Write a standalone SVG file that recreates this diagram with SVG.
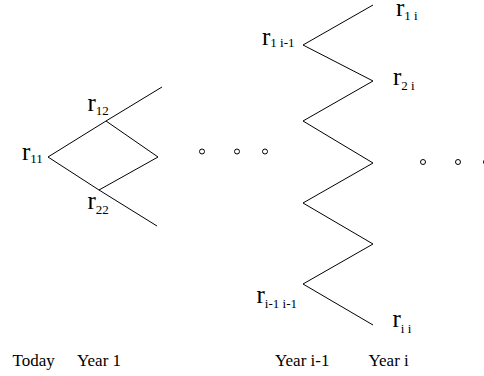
<svg xmlns="http://www.w3.org/2000/svg" width="484" height="376" viewBox="0 0 484 376">
<style>
.ln{fill:none;stroke:#000;stroke-width:1}
.dot{fill:#fff;stroke:#000;stroke-width:1}
.r{font-family:"Liberation Serif",serif;font-size:25px;fill:#000}
.s{font-size:13px}
.yr{font-family:"Liberation Serif",serif;font-size:17px;fill:#000}
</style>
<g id="connectors">
<polyline class="ln" points="162,87 106,121 48,157 99,190 157,226"/>
<polyline class="ln" points="106,121 158,157 99,190"/>
<polyline class="ln" points="373,5 303,45 373,81 303,121 373,163 303,203 373,244 303,284 373,325"/>
</g>
<g id="dots">
<circle class="dot" cx="202" cy="151.5" r="2.5"/>
<circle class="dot" cx="237" cy="151.5" r="2.5"/>
<circle class="dot" cx="265" cy="151.5" r="2.5"/>
<circle class="dot" cx="423" cy="162" r="2.5"/>
<circle class="dot" cx="458" cy="162" r="2.5"/>
<circle class="dot" cx="486" cy="162" r="2.5"/>
</g>
<g id="n_r11"><text class="r" x="22" y="160">r<tspan class="s" dy="3">11</tspan></text></g>
<g id="n_r12"><text class="r" x="87.5" y="110.5">r<tspan class="s" dy="4.5">12</tspan></text></g>
<g id="n_r22"><text class="r" x="87.5" y="209">r<tspan class="s" dy="5">22</tspan></text></g>
<g id="n_r1im1"><text class="r" x="262" y="44.5">r<tspan class="s" dy="2.5">1 i-1</tspan></text></g>
<g id="n_r1i"><text class="r" x="396" y="16">r<tspan class="s" dy="3.5">1 i</tspan></text></g>
<g id="n_r2i"><text class="r" x="393" y="85">r<tspan class="s" dy="5">2 i</tspan></text></g>
<g id="n_rim1im1"><text class="r" x="256.5" y="302.5">r<tspan class="s" dy="5">i-1 i-1</tspan></text></g>
<g id="n_rii"><text class="r" x="392.5" y="326.5">r<tspan class="s" dy="6">i i</tspan></text></g>
<g id="labels">
<text class="yr" x="12.5" y="366">Today</text>
<text class="yr" x="77" y="366">Year 1</text>
<text class="yr" x="275" y="366">Year i-1</text>
<text class="yr" x="368.5" y="366">Year i</text>
</g>
</svg>
